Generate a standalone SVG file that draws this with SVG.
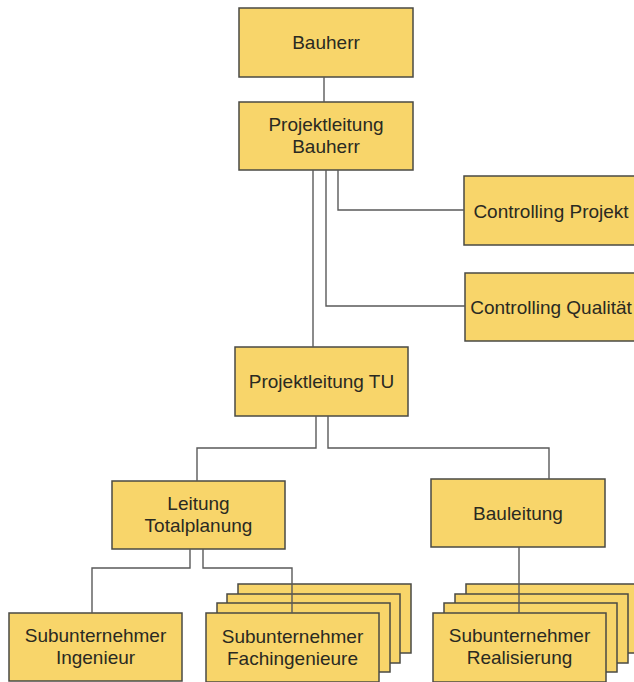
<svg xmlns="http://www.w3.org/2000/svg" width="634" height="682" viewBox="0 0 634 682">
<style>
.box{fill:#F8D56A;stroke:#4a4a44;stroke-width:1.5}
.t{font-family:"Liberation Sans",Arial,sans-serif;font-size:19px;fill:#2a2a22;text-anchor:middle}
.c{fill:none;stroke:#5a5a5a;stroke-width:1.4}
</style>
<rect width="634" height="682" fill="#ffffff"/>
<g id="bauherr"><rect class="box" x="239" y="8" width="174" height="69"/><text class="t" x="326" y="49">Bauherr</text></g>
<g id="pl-bauherr"><rect class="box" x="239" y="102" width="174" height="68"/><text class="t" x="326" y="131">Projektleitung</text><text class="t" x="326" y="153">Bauherr</text></g>
<g id="controlling-projekt"><rect class="box" x="464" y="176" width="174" height="69"/><text class="t" x="551" y="218">Controlling Projekt</text></g>
<g id="controlling-qualitaet"><rect class="box" x="465" y="273" width="174" height="68"/><text class="t" x="551" y="314">Controlling Qualität</text></g>
<g id="pl-tu"><rect class="box" x="235" y="347" width="173" height="69"/><text class="t" x="321.5" y="388">Projektleitung TU</text></g>
<g id="leitung-totalplanung"><rect class="box" x="112" y="481" width="173" height="68"/><text class="t" x="198.5" y="510">Leitung</text><text class="t" x="198.5" y="532">Totalplanung</text></g>
<g id="bauleitung"><rect class="box" x="431" y="479" width="174" height="68"/><text class="t" x="518" y="520">Bauleitung</text></g>
<g id="sub-ingenieur"><rect class="box" x="9" y="613" width="173" height="68"/><text class="t" x="95.5" y="642">Subunternehmer</text><text class="t" x="95.5" y="664">Ingenieur</text></g>
<g id="sub-fachingenieure">
<rect class="box" x="238" y="584" width="173" height="69"/>
<rect class="box" x="227" y="594" width="173" height="69"/>
<rect class="box" x="217" y="603" width="173" height="69"/>
<rect class="box" x="206" y="613" width="173" height="69"/>
<text class="t" x="292.5" y="643">Subunternehmer</text><text class="t" x="292.5" y="665">Fachingenieure</text></g>
<g id="sub-realisierung">
<rect class="box" x="466" y="584" width="173" height="69"/>
<rect class="box" x="455" y="594" width="173" height="69"/>
<rect class="box" x="444" y="603" width="173" height="69"/>
<rect class="box" x="433" y="613" width="173" height="69"/>
<text class="t" x="519.5" y="642">Subunternehmer</text><text class="t" x="519.5" y="664">Realisierung</text></g>
<g id="connectors">
<path class="c" d="M324,77V102"/>
<path class="c" d="M313,170V347"/>
<path class="c" d="M326,170V306H465"/>
<path class="c" d="M338,170V210H464"/>
<path class="c" d="M316,416V448H197V481"/>
<path class="c" d="M328,416V448H549V479"/>
<path class="c" d="M190,549V568H92V613"/>
<path class="c" d="M203,549V568H292V613"/>
<path class="c" d="M519,547V613"/>
</g>
</svg>
